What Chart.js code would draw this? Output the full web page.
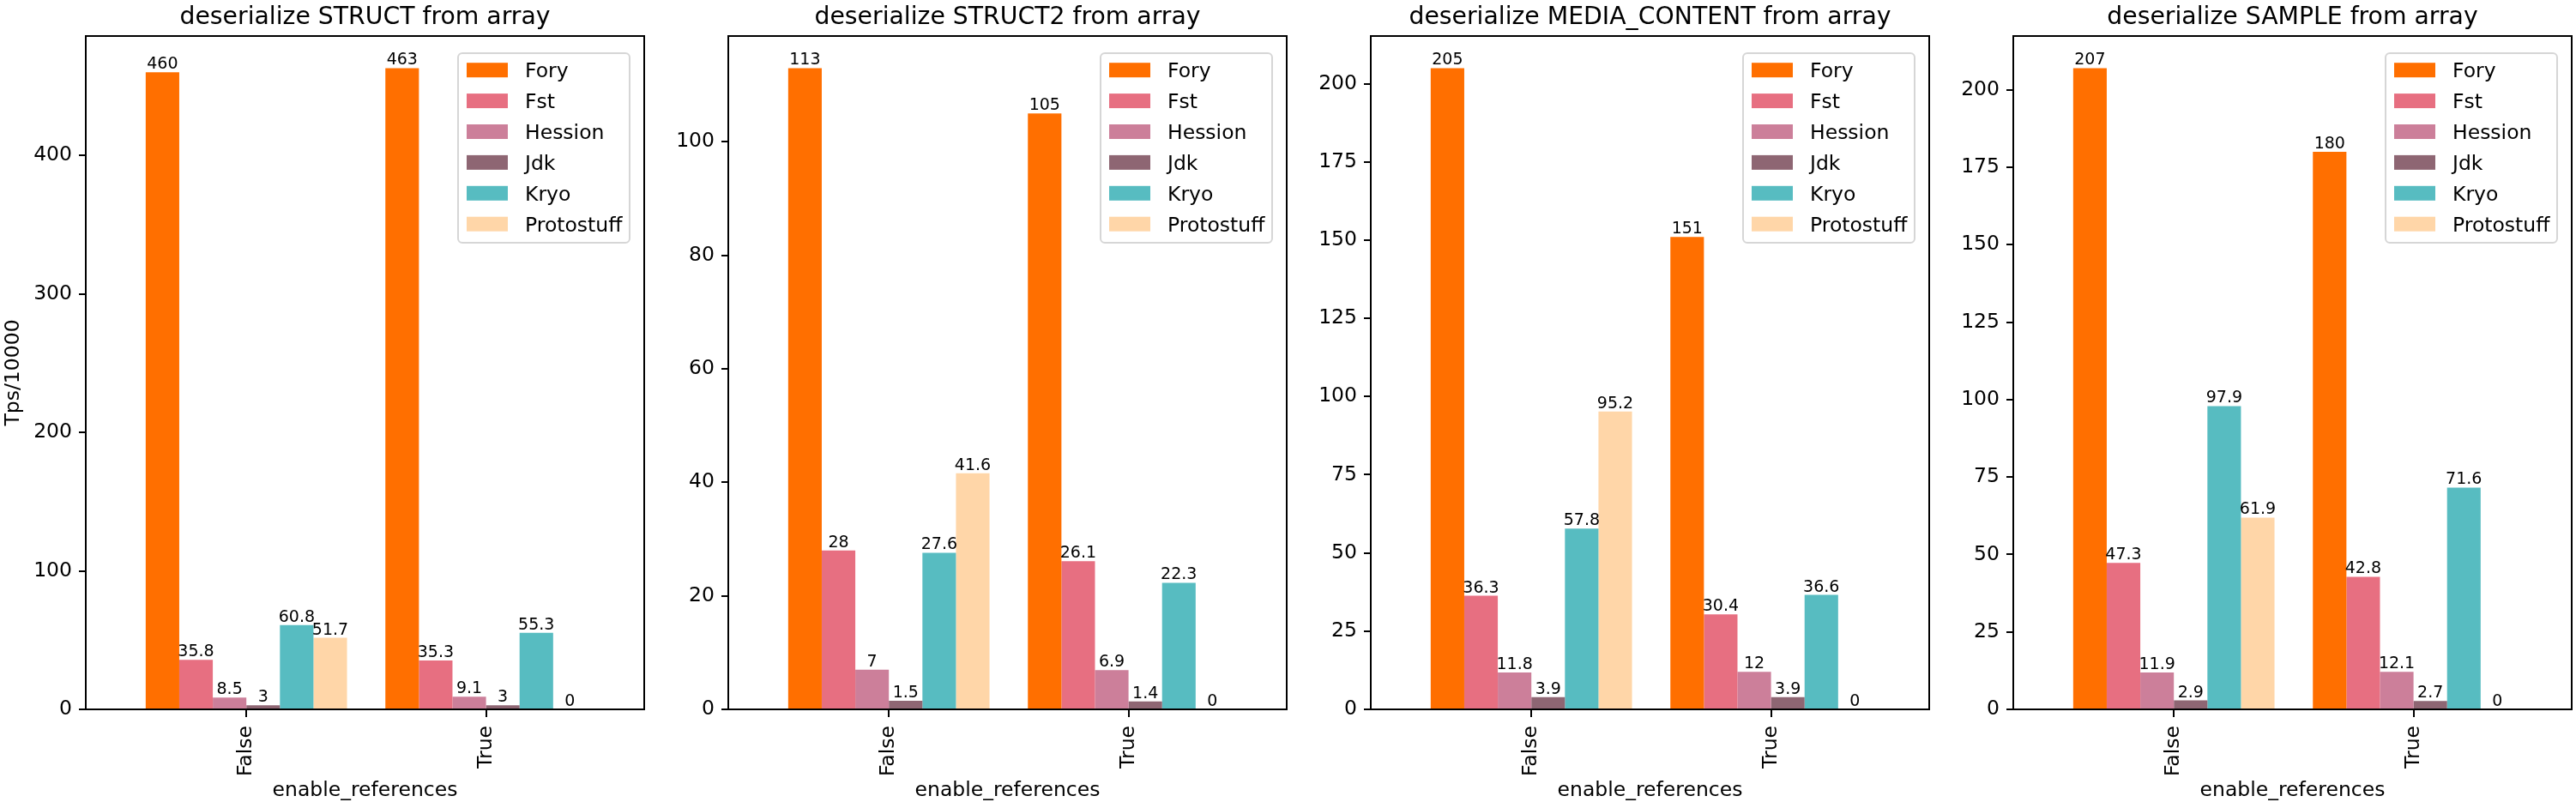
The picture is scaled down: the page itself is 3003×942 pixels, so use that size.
<!DOCTYPE html>
<html>
<head>
<meta charset="utf-8">
<script src="https://cdn.jsdelivr.net/npm/chart.js@4.4.1/dist/chart.umd.min.js"></script>
<style>
  html, body { margin: 0; padding: 0; background: #fff; width: 3003px; height: 942px; overflow: hidden; }
  .panel { position: absolute; top: 0; width: 760px; height: 942px; }
</style>
</head>
<body>
<div class="panel" style="left:0px"><canvas id="c0" width="760" height="942"></canvas></div>
<div class="panel" style="left:749px"><canvas id="c1" width="760" height="942"></canvas></div>
<div class="panel" style="left:1498px"><canvas id="c2" width="760" height="942"></canvas></div>
<div class="panel" style="left:2247px"><canvas id="c3" width="760" height="942"></canvas></div>
<script>
const categories = ['False', 'True'];
const series     = ['Fory', 'Fst', 'Hession', 'Jdk', 'Kryo', 'Protostuff'];
const colors     = ['#FF6F00', '#E76F81', '#CC7F9A', '#8E6673', '#57BCC1', '#FFD6A8'];

const titles = [
  'deserialize STRUCT from array',
  'deserialize STRUCT2 from array',
  'deserialize MEDIA_CONTENT from array',
  'deserialize SAMPLE from array',
];

// one row per series (Fory..Protostuff), [False, True]
const structVals  = [[460, 463], [35.8, 35.3], [8.5, 9.1],   [3, 3],     [60.8, 55.3], [51.7, 0]];
const struct2Vals = [[113, 105], [28, 26.1],   [7, 6.9],     [1.5, 1.4], [27.6, 22.3], [41.6, 0]];
const mediaVals   = [[205, 151], [36.3, 30.4], [11.8, 12],   [3.9, 3.9], [57.8, 36.6], [95.2, 0]];
const sampleVals  = [[207, 180], [47.3, 42.8], [11.9, 12.1], [2.9, 2.7], [97.9, 71.6], [61.9, 0]];
const panelVals   = [structVals, struct2Vals, mediaVals, sampleVals];

const yStep = [100, 20, 25, 25];

Chart.defaults.font.family = "'DejaVu Sans', sans-serif";
Chart.defaults.color = '#000';

const FONT_TICK = 23.5;

const TitlePlugin = {
  id: 'mplTitle',
  afterDraw(chart, args, opts) {
    const { ctx, chartArea: a } = chart;
    ctx.save();
    ctx.font = `28.3px 'DejaVu Sans'`;
    ctx.fillStyle = '#000';
    ctx.textAlign = 'center';
    ctx.textBaseline = 'alphabetic';
    ctx.fillText(opts.text, (a.left + a.right) / 2, 28);
    ctx.restore();
  }
};

const SpinePlugin = {
  id: 'spines',
  afterDatasetsDraw(chart) {
    const { ctx, chartArea: a } = chart;
    ctx.save();
    ctx.strokeStyle = '#000';
    ctx.lineWidth = 2;
    ctx.strokeRect(a.left, a.top, a.right - a.left, a.bottom - a.top);
    ctx.restore();
  }
};

const BarLabelPlugin = {
  id: 'barLabels',
  afterDatasetsDraw(chart) {
    const { ctx } = chart;
    ctx.save();
    ctx.font = `19px 'DejaVu Sans'`;
    ctx.fillStyle = '#000';
    ctx.textAlign = 'center';
    ctx.textBaseline = 'alphabetic';
    chart.data.datasets.forEach((ds, di) => {
      chart.getDatasetMeta(di).data.forEach((el, i) => {
        ctx.fillText(String(ds.data[i].y), el.x, el.y - 4);
      });
    });
    ctx.restore();
  }
};

const LegendPlugin = {
  id: 'mplLegend',
  afterDraw(chart) {
    const { ctx, chartArea: a } = chart;
    const w = 200, h = 221;
    const x = a.right - 17 - w, y = a.top + 20;
    ctx.save();
    ctx.beginPath();
    ctx.roundRect(x, y, w, h, 5);
    ctx.fillStyle = 'rgba(255,255,255,0.8)';
    ctx.fill();
    ctx.strokeStyle = '#d6d6d6';
    ctx.lineWidth = 2;
    ctx.stroke();
    ctx.font = `23.5px 'DejaVu Sans'`;
    ctx.textAlign = 'left';
    ctx.textBaseline = 'alphabetic';
    chart.data.datasets.forEach((ds, i) => {
      const cy = y + 19.7 + i * 35.9;
      ctx.fillStyle = ds.backgroundColor;
      ctx.fillRect(x + 10, cy - 8.5, 48, 17);
      ctx.fillStyle = '#000';
      ctx.fillText(ds.label, x + 78, cy + 8.5);
    });
    ctx.restore();
  }
};

function makePanel(idx) {
  const vals = panelVals[idx];
  const maxVal = Math.max(...vals.flat());
  const datasets = series.map((name, si) => ({
    label: name,
    data: vals[si].map((v, ci) => ({ x: ci, y: v })),
    backgroundColor: colors[si],
    borderWidth: 0,
    categoryPercentage: 0.84,
    barPercentage: 1.0,
  }));
  new Chart(document.getElementById('c' + idx), {
    type: 'bar',
    data: { datasets },
    options: {
      responsive: false, animation: false, devicePixelRatio: 1,
      layout: { padding: { top: 42, right: 9, left: 0, bottom: 0 } },
      plugins: {
        legend: { display: false }, title: { display: false }, tooltip: { enabled: false },
        mplTitle: { text: titles[idx] },
      },
      scales: {
        x: {
          type: 'linear', min: -0.67, max: 1.66, offset: false,
          afterBuildTicks: s => { s.ticks = categories.map((_, i) => ({ value: i })); },
          afterFit: s => { s.height = 115; },
          ticks: {
            stepSize: 1, includeBounds: false,
            callback: v => categories[v] ?? '', minRotation: 90, maxRotation: 90,
            autoSkip: false, padding: 10, font: { size: FONT_TICK },
          },
          // bar charts default to offset grid lines; put the marks on the categories
          grid: { display: true, offset: false, drawOnChartArea: false, drawTicks: true, tickLength: 9, lineWidth: 2, color: '#000' },
          border: { display: true, color: '#000', width: 2 },
          title: { display: true, text: 'enable_references', font: { size: FONT_TICK }, padding: { top: 0, bottom: 6 } },
        },
        y: {
          min: 0, max: maxVal * 1.05,
          afterFit: s => { s.width = 100; },
          ticks: { stepSize: yStep[idx], includeBounds: false, padding: 8, font: { size: FONT_TICK } },
          grid: { display: true, drawOnChartArea: false, drawTicks: true, tickLength: 8, lineWidth: 2, color: '#000' },
          border: { display: true, color: '#000', width: 2 },
          title: { display: idx === 0, text: 'Tps/10000', font: { size: FONT_TICK }, padding: { top: 2, bottom: 0 } },
        },
      },
    },
    plugins: [SpinePlugin, BarLabelPlugin, TitlePlugin, LegendPlugin],
  });
}

[0, 1, 2, 3].forEach(makePanel);
</script>
</body>
</html>
